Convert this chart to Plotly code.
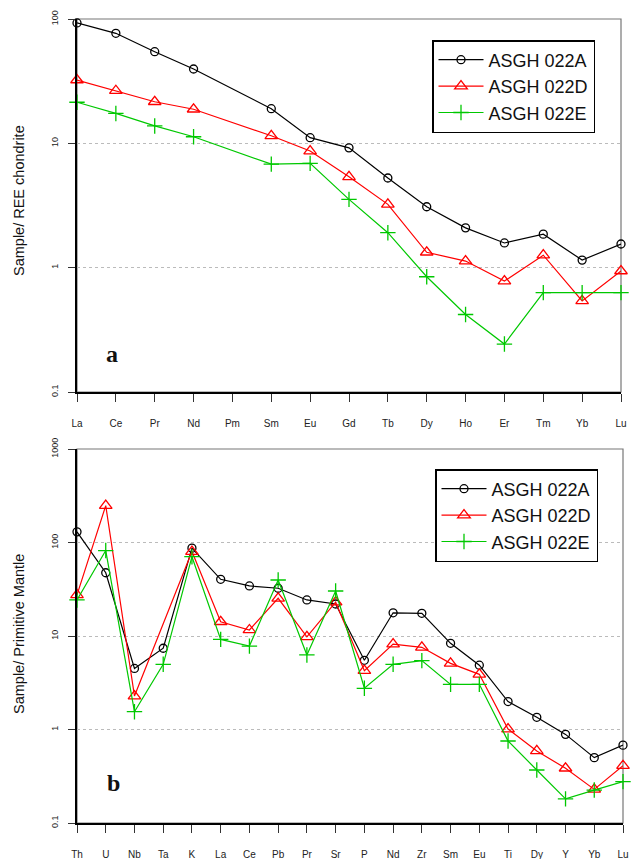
import plotly.graph_objects as go

# ---------- data ----------
ree_elements = ["La", "Ce", "Pr", "Nd", "Pm", "Sm", "Eu", "Gd", "Tb", "Dy", "Ho", "Er", "Tm", "Yb", "Lu"]
ree_A = [93, 76.7, 54.6, 39.6, None, 19.0, 11.1, 9.2, 5.26, 3.09, 2.09, 1.58, 1.86, 1.15, 1.55]
ree_D = [32.3, 26.5, 21.6, 18.8, None, 11.5, 8.67, 5.38, 3.23, 1.33, 1.13, 0.78, 1.26, 0.54, 0.94]
ree_E = [21.4, 17.4, 13.8, 11.3, None, 6.8, 6.9, 3.54, 1.91, 0.845, 0.42, 0.243, 0.63, 0.63, 0.63]

pm_elements = ["Th", "U", "Nb", "Ta", "K", "La", "Ce", "Pb", "Pr", "Sr", "P", "Nd", "Zr", "Sm", "Eu", "Ti", "Dy", "Y", "Yb", "Lu"]
pm_A = [130, 47.5, 4.5, 7.4, 87, 40.4, 34.3, 32.4, 24.3, 22.0, 5.5, 17.7, 17.5, 8.35, 4.87, 1.99, 1.35, 0.887, 0.50, 0.68]
pm_D = [27.5, 248, 2.28, None, 80, 14.2, 11.6, 25.3, 9.8, 23.0, 4.26, 8.2, 7.57, 5.1, 3.89, 1.01, 0.59, 0.385, 0.229, 0.41]
pm_E = [24.3, 82, 1.55, 4.98, 70.5, 9.2, 7.8, 39.7, 6.27, 30.3, 2.76, 4.98, 5.45, 3.04, 3.04, 0.753, 0.369, 0.181, 0.225, 0.277]

sample_names = ["ASGH 022A", "ASGH 022D", "ASGH 022E"]
colors = ["#000000", "#ff0000", "#00c800"]
symbols = ["circle-open", "triangle-up-open", "cross-thin-open"]
msizes = [8, 11, 11]

# ---------- layout geometry ----------
W, H = 632, 859
ml, mr, mt, mb = 77, 9, 19, 36
pw = W - ml - mr
ph = H - mt - mb
top_dom = [(823 - 392) / ph, 1.0]
bot_dom = [0.0, (823 - 449) / ph]
top_xdom = [0.0, (621 - 77) / pw]

fig = go.Figure()

def add_series(xlabels, series, xa, ya, legend):
    xs = list(range(len(xlabels)))
    for name, vals, c, s, ms in zip(sample_names, series, colors, symbols, msizes):
        fig.add_trace(go.Scatter(
            x=xs, y=vals, name=name, mode="lines+markers",
            connectgaps=True, cliponaxis=False,
            line=dict(color=c, width=1.2),
            marker=dict(symbol=s, size=ms, color=c, line=dict(color=c, width=1.3)),
            xaxis=xa, yaxis=ya, legend=legend,
        ))

add_series(ree_elements, [ree_A, ree_D, ree_E], "x", "y", "legend")
add_series(pm_elements, [pm_A, pm_D, pm_E], "x2", "y2", "legend2")

xcommon = dict(showline=True, linecolor="black", linewidth=2, ticks="outside", ticklen=8,
               tickcolor="#333", tickfont=dict(family="Arial", size=10, color="#222"),
               showgrid=False, zeroline=False, ticklabelstandoff=13, automargin=False)
ycommon = dict(type="log", showline=True, linecolor="black", linewidth=2, ticks="outside",
               ticklen=7, tickcolor="#333", tickangle=-90,
               tickfont=dict(family="Arial", size=9, color="#222"),
               showgrid=True, gridcolor="#bbbbbb", griddash="dot", gridwidth=1,
               zeroline=False, ticklabelstandoff=6, automargin=False)

legend_common = dict(xanchor="left", yanchor="top", bordercolor="black", borderwidth=1.5,
                     bgcolor="white", font=dict(family="Arial", size=18, color="#111"),
                     tracegroupgap=0, itemwidth=45)

fig.update_layout(
    width=W, height=H, margin=dict(l=ml, r=mr, t=mt, b=mb, autoexpand=False),
    paper_bgcolor="white", plot_bgcolor="white", showlegend=True,
    xaxis=dict(domain=top_xdom, anchor="y", range=[0, len(ree_elements) - 1],
               tickvals=list(range(len(ree_elements))), ticktext=ree_elements, **xcommon),
    yaxis=dict(domain=top_dom, anchor="x", range=[-1, 2],
               tickvals=[0.1, 1, 10, 100], ticktext=["0.1", "1", "10", "100"], **ycommon),
    xaxis2=dict(domain=[0, 1], anchor="y2", range=[0, len(pm_elements) - 1],
                tickvals=list(range(len(pm_elements))), ticktext=pm_elements, **xcommon),
    yaxis2=dict(domain=bot_dom, anchor="x2", range=[-1, 3],
                tickvals=[0.1, 1, 10, 100, 1000], ticktext=["0.1", "1", "10", "100", "1000"], **ycommon),
    legend=dict(x=(432 - ml) / pw, y=(823 - 40) / ph, **legend_common),
    legend2=dict(x=(435 - ml) / pw, y=(823 - 469) / ph, **legend_common),
)

# frames
fig.add_shape(type="rect", xref="x domain", yref="y domain", x0=0, x1=1, y0=0, y1=1,
              line=dict(color="#777", width=1.2), layer="below")
fig.add_shape(type="rect", xref="x2 domain", yref="y2 domain", x0=0, x1=1, y0=0, y1=1,
              line=dict(color="#777", width=1.2), layer="below")

def ann(text, px, py, size, family, angle=0):
    fig.add_annotation(text=text, xref="paper", yref="paper",
                       x=(px - ml) / pw, y=(823 - py) / ph, xanchor="center", yanchor="middle",
                       textangle=angle, showarrow=False,
                       font=dict(family=family, size=size, color="#111"))

# y titles and panel labels
ann("Sample/ REE chondrite", 19, 201, 14.5, "Arial", -90)
ann("Sample/ Primitive Mantle", 19, 634, 14.5, "Arial", -90)
ann("<b>a</b>", 112, 354, 24, "Liberation Serif")
ann("<b>b</b>", 113, 783, 24, "Liberation Serif")

fig.write_html("out.html")
